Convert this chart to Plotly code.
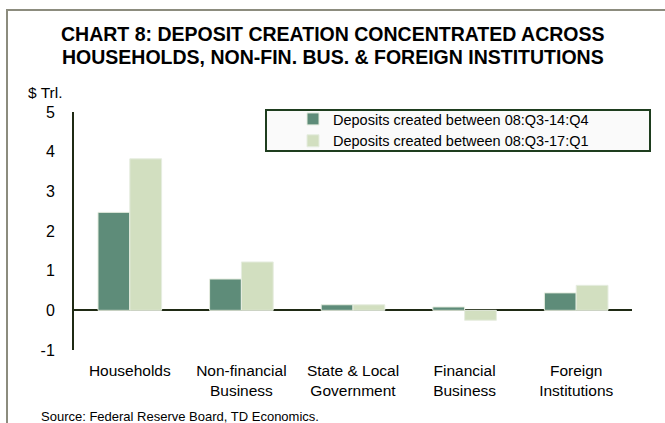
import plotly.graph_objects as go

# Deposit creation by sector, $ trillions
categories = [
    "Households",
    "Non-financial<br>Business",
    "State & Local<br>Government",
    "Financial<br>Business",
    "Foreign<br>Institutions",
]
deposits_08q3_14q4 = [2.47, 0.79, 0.14, 0.085, 0.44]
deposits_08q3_17q1 = [3.82, 1.22, 0.14, -0.25, 0.63]
series_names = [
    "Deposits created between 08:Q3-14:Q4",
    "Deposits created between 08:Q3-17:Q1",
]
y_ticks = [-1, 0, 1, 2, 3, 4, 5]
y_tick_labels = ["-1", "0", "1", "2", "3", "4", "5"]

FONT = "Liberation Sans, Arial, sans-serif"
DARK = "#5e8c79"
LIGHT = "#d2dfc0"
AXIS = "#1f2a14"

W, H = 665, 423
L, R, T, B = 74, 33, 112, 73


def px_x(p):
    return (p - L) / (W - L - R)


def px_y(p):
    return (H - B - p) / (H - T - B)


fig = go.Figure()
fig.add_trace(go.Bar(
    x=categories, y=deposits_08q3_14q4, name=series_names[0],
    marker=dict(color=DARK, line=dict(color="#e6ede0", width=1)),
))
fig.add_trace(go.Bar(
    x=categories, y=deposits_08q3_17q1, name=series_names[1],
    marker=dict(color=LIGHT, line=dict(color="#e6ede0", width=1)),
))

shapes = [
    # outer frame (left and top edges visible)
    dict(type="rect", xref="paper", yref="paper",
         x0=px_x(7), x1=px_x(680), y0=px_y(440), y1=px_y(10),
         line=dict(color="#8c8c7e", width=2), fillcolor="rgba(0,0,0,0)",
         layer="below"),
    # legend box
    dict(type="rect", xref="paper", yref="paper",
         x0=px_x(266), x1=px_x(650), y0=px_y(151), y1=px_y(110),
         line=dict(color="#1e3d1e", width=2), fillcolor="#fafafa",
         layer="below"),
]

annotations = [
    dict(text="<b>CHART 8: DEPOSIT CREATION CONCENTRATED ACROSS</b>",
         xref="paper", yref="paper", x=px_x(333), y=px_y(34),
         xanchor="center", yanchor="middle", showarrow=False,
         font=dict(family=FONT, size=19.5, color="#000")),
    dict(text="<b>HOUSEHOLDS, NON-FIN. BUS. & FOREIGN INSTITUTIONS</b>",
         xref="paper", yref="paper", x=px_x(333), y=px_y(57),
         xanchor="center", yanchor="middle", showarrow=False,
         font=dict(family=FONT, size=19.5, color="#000")),
    dict(text="$ Trl.", xref="paper", yref="paper",
         x=px_x(26), y=px_y(92), xanchor="left", yanchor="middle",
         showarrow=False, font=dict(family=FONT, size=15.5, color="#000")),
    dict(text="Source: Federal Reserve Board, TD Economics.",
         xref="paper", yref="paper", x=px_x(39), y=px_y(416),
         xanchor="left", yanchor="middle", showarrow=False,
         font=dict(family=FONT, size=13, color="#000")),
]

fig.update_layout(
    width=W, height=H,
    margin=dict(l=L, r=R, t=T, b=B, pad=0),
    paper_bgcolor="white", plot_bgcolor="white",
    barmode="group", bargap=0.43, bargroupgap=0,
    font=dict(family=FONT, color="#000"),
    showlegend=True,
    legend=dict(
        x=px_x(293), y=px_y(103), xanchor="left", yanchor="top",
        bgcolor="rgba(0,0,0,0)", borderwidth=0,
        font=dict(family=FONT, size=14.5, color="#000"),
        tracegroupgap=0,
    ),
    shapes=shapes,
    annotations=annotations,
    xaxis=dict(
        showline=False, showgrid=False, zeroline=False, ticks="",
        ticklabelstandoff=9,
        tickfont=dict(family=FONT, size=15.5, color="#000"),
    ),
    yaxis=dict(
        range=[-1, 5], tickvals=y_ticks, ticktext=y_tick_labels,
        showgrid=False,
        showline=True, linecolor=AXIS, linewidth=2,
        zeroline=True, zerolinecolor=AXIS, zerolinewidth=2,
        ticks="", ticklabelstandoff=14,
        tickfont=dict(family=FONT, size=16, color="#000"),
    ),
)

fig.write_html("out.html")
